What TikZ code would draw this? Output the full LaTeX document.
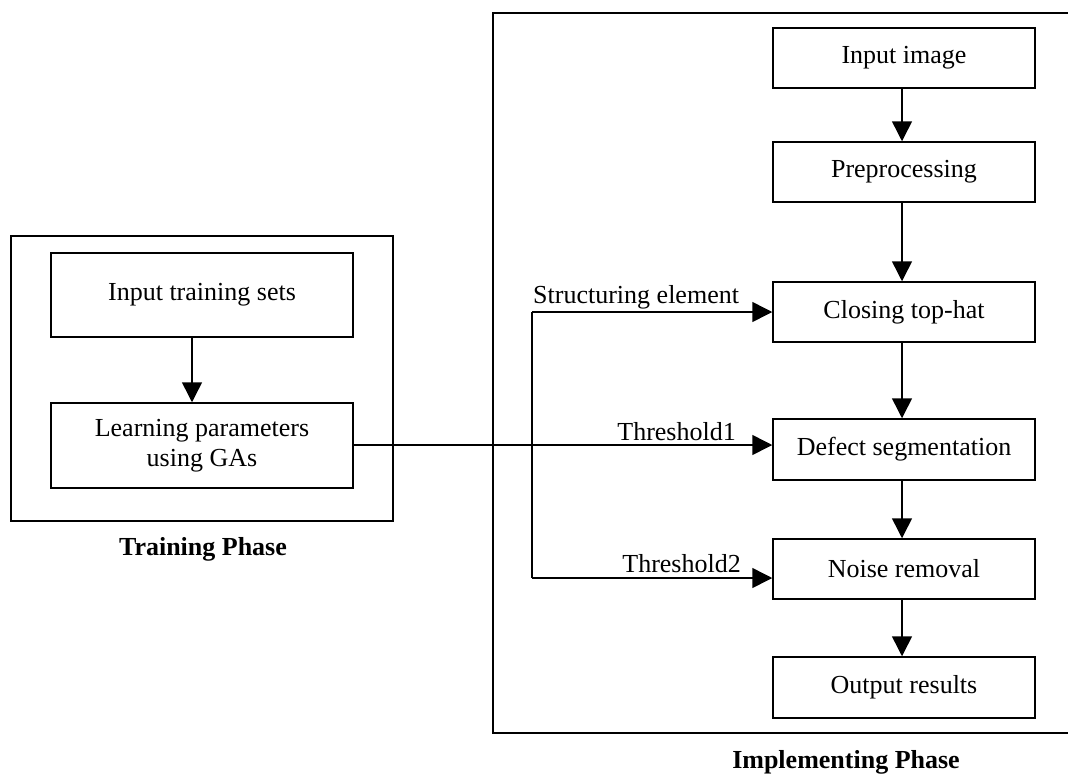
\documentclass[tikz,border=0pt]{standalone}
\usepackage{fontspec}
\setmainfont{Liberation Serif}
\usetikzlibrary{arrows.meta,positioning,calc}

\newcommand{\diagfont}{\fontsize{26}{30}\selectfont}

\tikzset{
  stepbox/.style={draw, line width=1.5pt, minimum width=#1, inner sep=0pt, align=center},
  stepbox/.default=302pt,
  frame/.style={draw, line width=1.6pt},
  flow/.style={line width=1.5pt, -{Triangle[length=20pt,width=20pt]}},
  plain/.style={line width=1.5pt},
  lbl/.style={inner sep=0pt},
  phase/.style={inner sep=0pt, anchor=base, font=\diagfont\bfseries}
}

\begin{document}
\begin{tikzpicture}[x=1pt, y=-1pt, font=\diagfont]
\useasboundingbox (0,0) rectangle (1068,774);

% Training phase frame
\draw[frame] (11,236) rectangle (393,521);
\node[phase] (trainlbl) at (203,555) {Training Phase};

\node[stepbox=302pt, minimum height=84pt] (inset) at (202,295) {Input training sets};
\node[stepbox=302pt, minimum height=85pt] (learn) at (202,445.5) {Learning parameters\\using GAs};

\coordinate (tx) at (192,0);
\draw[flow] (inset.south -| tx) -- (learn.north -| tx);

% Implementing phase frame (open on the right)
\draw[frame] (1070,13) -- (493,13) -- (493,733) -- (1070,733);
\node[phase] (implbl) at (846,768) {Implementing Phase};

\node[stepbox=262pt, minimum height=60pt] (inimg) at (904,58) {Input image};
\node[stepbox=262pt, minimum height=60pt] (prep) at (904,172) {Preprocessing};
\node[stepbox=262pt, minimum height=60pt] (close) at (904,312) {Closing top-hat};
\node[stepbox=262pt, minimum height=61pt] (seg) at (904,449.5) {Defect segmentation};
\node[stepbox=262pt, minimum height=60pt] (noise) at (904,569) {Noise removal};
\node[stepbox=262pt, minimum height=61pt] (outres) at (904,687.5) {Output results};

\coordinate (cx) at (902,0);
\draw[flow] (inimg.south -| cx) -- (prep.north -| cx);
\draw[flow] (prep.south -| cx) -- (close.north -| cx);
\draw[flow] (close.south -| cx) -- (seg.north -| cx);
\draw[flow] (seg.south -| cx) -- (noise.north -| cx);
\draw[flow] (noise.south -| cx) -- (outres.north -| cx);

% Parameters passed from training to implementation
\coordinate (thr) at (353,445);
\draw[flow] (learn.east |- thr) -- (seg.west |- thr);

\coordinate (top) at (532,312);
\coordinate (bot) at (532,578);
\draw[plain] (top) -- (bot);
\draw[flow] (top) -- (close.west |- top);
\draw[flow] (bot) -- (noise.west |- bot);

\node[lbl, anchor=base west] (selbl) at (533,303) {Structuring element};
\node[lbl, anchor=base east] (t1lbl) at (736,440) {Threshold1};
\node[lbl, anchor=base east] (t2lbl) at (741,572) {Threshold2};
\end{tikzpicture}
\end{document}
